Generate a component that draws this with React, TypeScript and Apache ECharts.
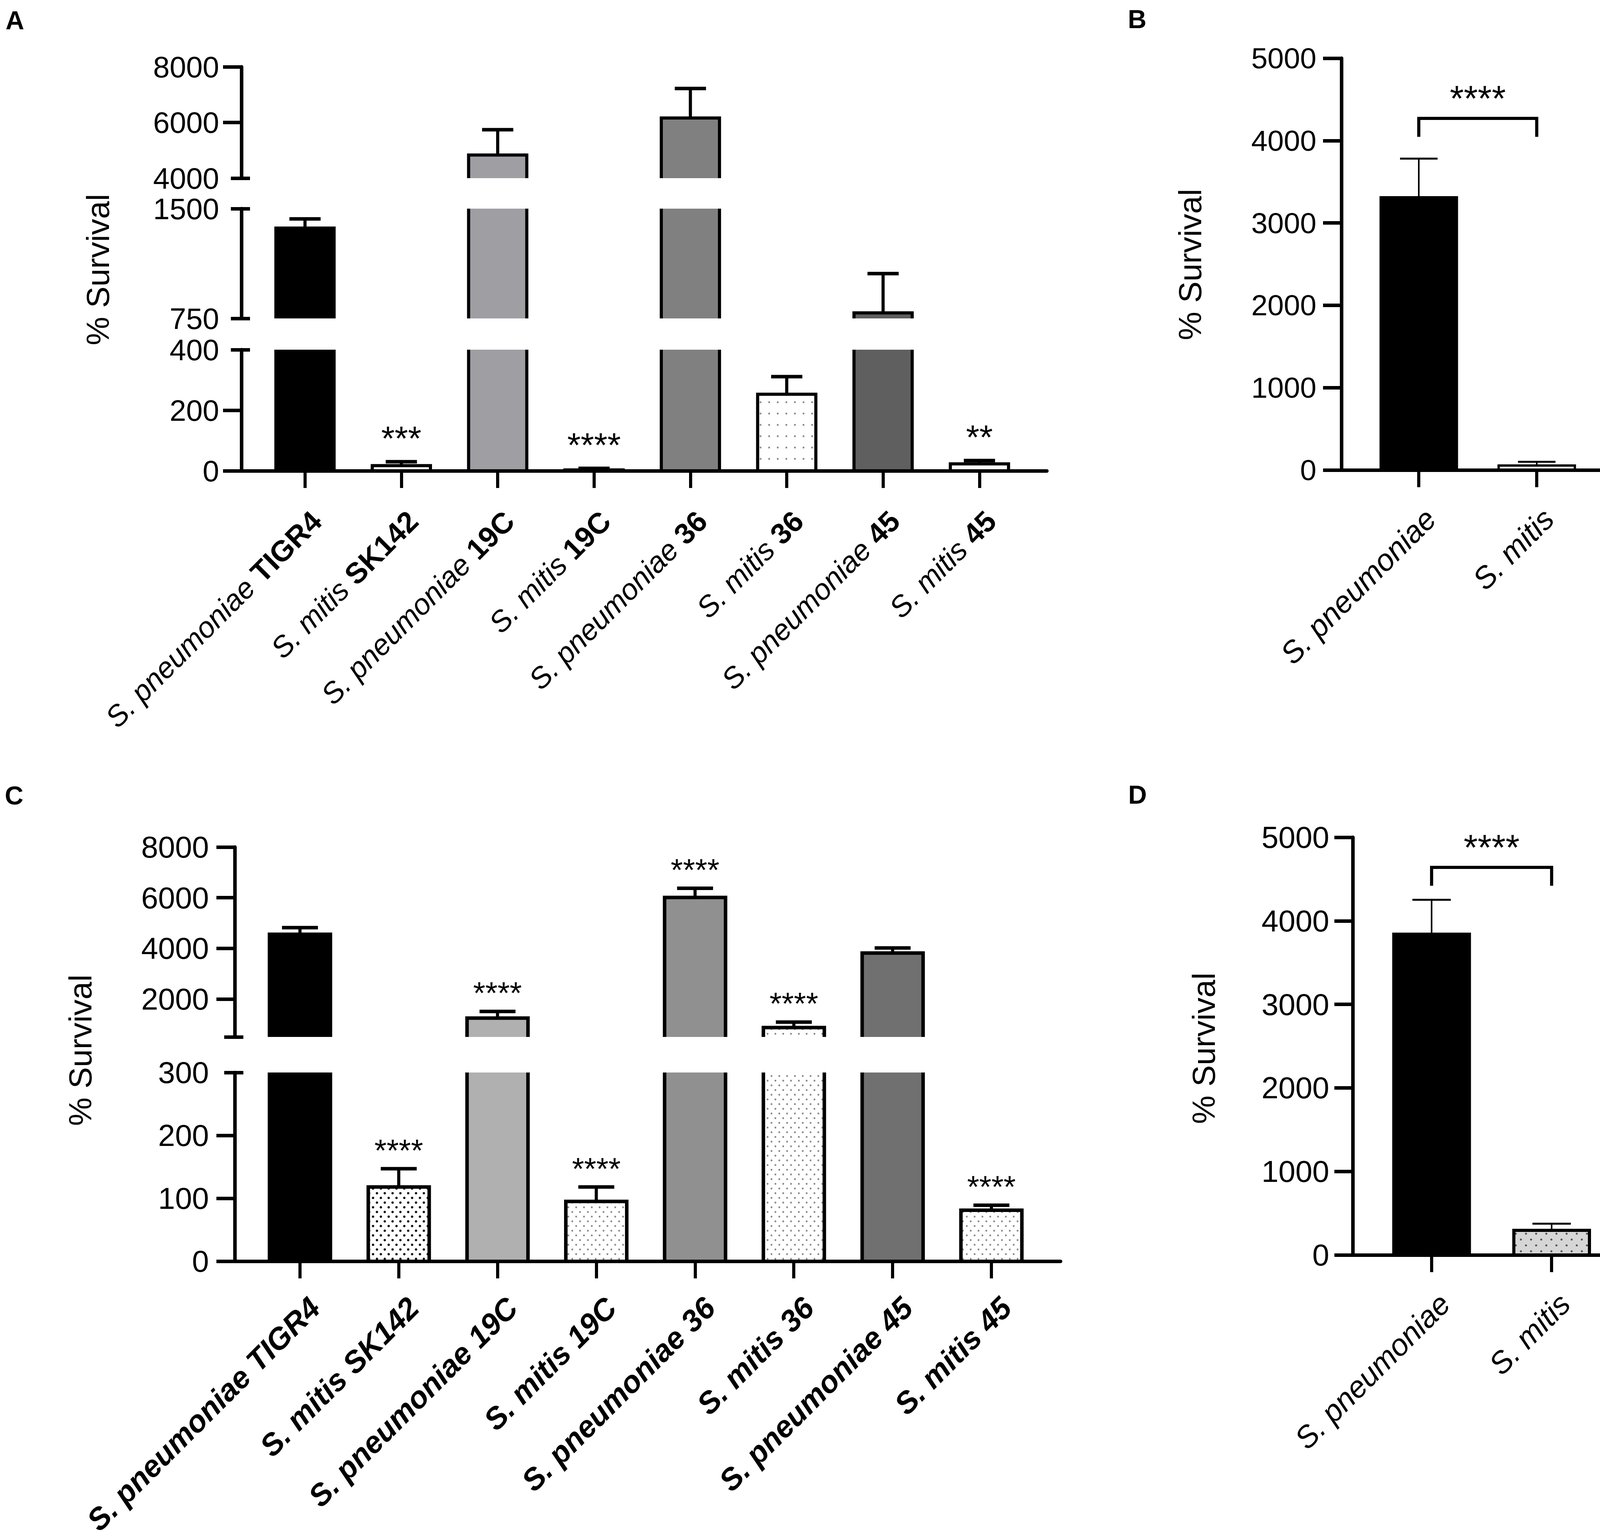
import React, { useEffect, useRef } from "react";
import * as echarts from "echarts";

const FONT = "'Liberation Sans', Arial, Helvetica, sans-serif";

// ---------------- Panel A ----------------
const speciesA = ["S. pneumoniae", "S. mitis", "S. pneumoniae", "S. mitis", "S. pneumoniae", "S. mitis", "S. pneumoniae", "S. mitis"];
const strainsA = ["TIGR4", "SK142", "19C", "19C", "36", "36", "45", "45"];
const valuesA = [1367, 17, 4830, 3, 6160, 253, 788, 23];
const errorsA = [63, 13, 910, 5, 1060, 58, 268, 11];
const starsA = ["", "***", "", "****", "", "", "", "**"];
const fillsA = ["#000000", "dotsA", "#9e9ea3", "dotsA", "#808080", "dotsA", "#5f5f5f", "dotsA"];
const segA_top = [4000, 8000];
const segA_mid = [750, 1500];
const segA_low = [0, 400];

// ---------------- Panel B ----------------
const speciesB = ["S. pneumoniae", "S. mitis"];
const valuesB = [3311, 55];
const errorsB = [470, 45];
const fillsB = ["#000000", "dotsA"];
const bracketB = [0, 1, 4270, 4045];
const bracketStarsB = "****";
const rangeB = [0, 5000];

// ---------------- Panel C ----------------
const speciesC = speciesA;
const strainsC = strainsA;
const valuesC = [4556, 118, 1243, 95, 6010, 870, 3815, 81];
const errorsC = [262, 29, 263, 23, 360, 217, 200, 8];
const starsC = ["", "****", "****", "****", "****", "****", "", "****"];
const fillsC = ["#000000", "dotsDense", "#b0b0b0", "dotsLight", "#909090", "dotsLight", "#707070", "dotsLight"];
const segC_top = [500, 8000];
const segC_low = [0, 300];
const labelsC_top = [2000, 4000, 6000, 8000];

// ---------------- Panel D ----------------
const speciesD = ["S. pneumoniae", "S. mitis"];
const valuesD = [3840, 295];
const errorsD = [412, 79];
const fillsD = ["#000000", "dotsD"];
const bracketD = [0, 1, 4640, 4420];
const bracketStarsD = "****";
const rangeD = [0, 5000];

function makeDots(bg: string, dot: string, r: number, w: number, h: number, staggered: boolean) {
  const c = document.createElement("canvas");
  c.width = w;
  c.height = h;
  const ctx = c.getContext("2d")!;
  ctx.fillStyle = bg;
  ctx.fillRect(0, 0, w, h);
  ctx.fillStyle = dot;
  const pts = staggered ? [[w / 4, h / 4], [(3 * w) / 4, (3 * h) / 4]] : [[w / 2, h / 2]];
  pts.forEach(([x, y]) => {
    ctx.beginPath();
    ctx.arc(x, y, r, 0, Math.PI * 2);
    ctx.fill();
  });
  return { image: c.toDataURL(), repeat: "repeat", imageWidth: w, imageHeight: h };
}

function barRenderer(cfg: any) {
  return function (params: any, api: any) {
    const idx = params.dataIndex;
    const i = api.value(0);
    const v = api.value(1);
    const e = api.value(2);
    const cs = params.coordSys;
    const gTop = cs.y;
    const gBot = cs.y + cs.height;
    const pv = api.coord([i, v]);
    const cx = pv[0];
    const yv = pv[1];
    const y0 = api.coord([i, 0])[1];
    const ye = api.coord([i, v + e])[1];
    const unit = api.size([1, 0])[0];
    const bw = unit * cfg.barFrac;
    const cw = unit * cfg.capFrac;
    const L = cx - bw / 2;
    const R = cx + bw / 2;
    const ch: any[] = [];
    const top = Math.max(yv, gTop);
    const bot = Math.min(y0, gBot);
    const stroke = { stroke: "#000", lineWidth: cfg.lw, fill: null, lineJoin: "miter", lineCap: "butt" };
    if (bot > top) {
      ch.push({ type: "rect", shape: { x: L, y: top, width: bw, height: bot - top }, style: { fill: cfg.fills[idx], stroke: null } });
      if (yv >= gTop) {
        ch.push({ type: "polyline", shape: { points: [[L, bot], [L, yv], [R, yv], [R, bot]] }, style: stroke });
      } else {
        ch.push({ type: "line", shape: { x1: L, y1: top, x2: L, y2: bot }, style: stroke });
        ch.push({ type: "line", shape: { x1: R, y1: top, x2: R, y2: bot }, style: stroke });
      }
    }
    if (e > 0) {
      const s1 = Math.min(yv, gBot);
      const s2 = Math.max(ye, gTop);
      if (s1 > s2) {
        ch.push({ type: "line", shape: { x1: cx, y1: s1, x2: cx, y2: s2 }, style: { stroke: "#000", lineWidth: cfg.errLw, lineCap: "butt" } });
      }
      if (ye >= gTop && ye <= gBot) {
        ch.push({ type: "line", shape: { x1: cx - cw / 2, y1: ye, x2: cx + cw / 2, y2: ye }, style: { stroke: "#000", lineWidth: cfg.capLw, lineCap: "butt" } });
      }
    }
    const star = cfg.stars ? cfg.stars[idx] : "";
    if (star && v + e >= cfg.segMin && v + e <= cfg.segMax) {
      ch.push({
        type: "text",
        x: cx,
        y: ye - cfg.starOffset,
        style: { text: star, fontSize: cfg.starFont, fontFamily: FONT, fill: "#000", align: "center", verticalAlign: "middle", textAlign: "center", textVerticalAlign: "middle" },
      });
    }
    return { type: "group", children: ch };
  };
}

function bracketRenderer(cfg: any) {
  return function (params: any, api: any) {
    const x0 = api.value(0);
    const x1 = api.value(1);
    const y = api.value(2);
    const yd = api.value(3);
    const p0 = api.coord([x0, y]);
    const p1 = api.coord([x1, y]);
    const d = api.coord([x0, yd])[1];
    return {
      type: "group",
      children: [
        { type: "polyline", shape: { points: [[p0[0], d], p0, p1, [p1[0], d]] }, style: { stroke: "#000", lineWidth: cfg.lw, fill: null, lineJoin: "miter" } },
        {
          type: "text",
          x: (p0[0] + p1[0]) / 2,
          y: p0[1] - cfg.starOffset,
          style: { text: cfg.stars, fontSize: cfg.starFont, fontFamily: FONT, fill: "#000", align: "center", verticalAlign: "middle", textAlign: "center", textVerticalAlign: "middle" },
        },
      ],
    };
  };
}

function buildOption(pat: Record<string, any>) {
  const grids: any[] = [];
  const xAxes: any[] = [];
  const yAxes: any[] = [];
  const series: any[] = [];
  const lineStyle = { color: "#000", width: 9 };

  function addPanel(p: any) {
    const idxs = p.values.map((_: number, i: number) => i);
    const fills = p.fills.map((f: string) => (pat[f] ? pat[f] : f));
    p.segs.forEach((s: any, k: number) => {
      const g = grids.length;
      const isBottom = k === p.segs.length - 1;
      grids.push({ left: p.left, width: p.width, top: s.top, height: s.height, containLabel: false, outerBoundsMode: "none" });
      if (isBottom) {
        xAxes.push({
          type: "value",
          gridIndex: g,
          min: p.xMin,
          max: p.xMax,
          position: "bottom",
          z: 10,
          axisLine: { show: true, onZero: false, lineStyle },
          axisTick: { show: true, length: 44, customValues: idxs, lineStyle: { color: "#000", width: 8 } },
          axisLabel: {
            show: true,
            customValues: idxs.map((i: number) => i + p.labelShift),
            rotate: 45,
            margin: p.labelMargin,
            color: "#000",
            fontSize: p.labelFont,
            fontFamily: FONT,
            formatter: (val: number) => p.labelFormatter(Math.round(val - p.labelShift)),
            rich: p.rich,
          },
          splitLine: { show: false },
        });
      } else {
        xAxes.push({ type: "value", gridIndex: g, min: p.xMin, max: p.xMax, show: false });
      }
      const yMain = yAxes.length;
      const main: any = {
        type: "value",
        gridIndex: g,
        position: "left",
        min: s.min,
        max: s.max,
        z: 10,
        axisLine: { show: true, onZero: false, lineStyle },
        axisTick: s.ticks.length
          ? { show: true, length: 47, customValues: s.ticks, lineStyle }
          : { show: false },
        axisLabel: {
          show: true,
          margin: p.yLabelMargin,
          color: "#000",
          fontSize: p.yFont,
          fontFamily: FONT,
          formatter: (val: number) => String(val),
        },
        splitLine: { show: false },
      };
      if (s.interval) main.interval = s.interval;
      if (s.labels) main.axisLabel.customValues = s.labels;
      yAxes.push(main);
      if (s.breaks && s.breaks.length) {
        yAxes.push({
          type: "value", gridIndex: g, position: "left", min: s.min, max: s.max, z: 10,
          axisLine: { show: false, onZero: false },
          axisTick: { show: true, inside: false, length: 27, customValues: s.breaks, lineStyle },
          axisLabel: { show: false }, splitLine: { show: false },
        });
        yAxes.push({
          type: "value", gridIndex: g, position: "left", min: s.min, max: s.max, z: 10,
          axisLine: { show: false, onZero: false },
          axisTick: { show: true, inside: true, length: 22, customValues: s.breaks, lineStyle },
          axisLabel: { show: false }, splitLine: { show: false },
        });
      }
      series.push({
        type: "custom",
        xAxisIndex: g,
        yAxisIndex: yMain,
        silent: true,
        dimensions: ["x", "y", "err"],
        encode: { x: 0, y: 1 },
        data: p.values.map((v: number, i: number) => [i, v, p.errors[i]]),
        renderItem: barRenderer({
          fills,
          stars: p.stars,
          segMin: s.min,
          segMax: s.max,
          barFrac: p.barFrac,
          capFrac: p.capFrac,
          lw: p.lw,
          errLw: p.errLw,
          capLw: p.capLw,
          starOffset: p.starOffset,
          starFont: p.starFont,
        }),
      });
      if (p.bracket && isBottom) {
        series.push({
          type: "custom",
          xAxisIndex: g,
          yAxisIndex: yMain,
          silent: true,
          data: [p.bracket],
          encode: { x: 0, y: 2 },
          renderItem: bracketRenderer({ lw: 8, stars: p.bracketStars, starOffset: 51, starFont: 92 }),
        });
      }
    });
  }

  const richA = {
    sp: { fontStyle: "italic", fontWeight: "normal", fontSize: 75, fontFamily: FONT, color: "#000" },
    st: { fontStyle: "normal", fontWeight: "bold", fontSize: 75, fontFamily: FONT, color: "#000" },
  };
  const richC = {
    bb: { fontStyle: "italic", fontWeight: "bold", fontSize: 78, fontFamily: FONT, color: "#000" },
  };
  const richBD = {
    sp: { fontStyle: "italic", fontWeight: "normal", fontSize: 78, fontFamily: FONT, color: "#000" },
  };

  addPanel({
    values: valuesA, errors: errorsA, stars: starsA, fills: fillsA,
    left: 618, width: 2062, xMin: -0.66, xMax: 7.7,
    segs: [
      { top: 171, height: 285, min: segA_top[0], max: segA_top[1], interval: 2000, ticks: [6000, 8000], breaks: [4000] },
      { top: 534, height: 281, min: segA_mid[0], max: segA_mid[1], interval: 750, ticks: [], breaks: [750, 1500] },
      { top: 895, height: 310, min: segA_low[0], max: segA_low[1], interval: 200, ticks: [0, 200], breaks: [400] },
    ],
    barFrac: 0.604, capFrac: 0.324, lw: 8, errLw: 8, capLw: 9, starOffset: 60, starFont: 88,
    yFont: 76, yLabelMargin: 57,
    labelShift: 0.12, labelMargin: 116, labelFont: 75, rich: richA,
    labelFormatter: (i: number) => `{sp|${speciesA[i]} }{st|${strainsA[i]}}`,
  });

  addPanel({
    values: valuesB, errors: errorsB, stars: null, fills: fillsB,
    left: 3434, width: 703, xMin: -0.656, xMax: 1.672,
    segs: [{ top: 149, height: 1054, min: rangeB[0], max: rangeB[1], interval: 1000, ticks: [0, 1000, 2000, 3000, 4000, 5000], breaks: [] }],
    barFrac: 0.646, capFrac: 0.318, lw: 6, errLw: 4, capLw: 5, starOffset: 60, starFont: 80,
    yFont: 75, yLabelMargin: 64,
    labelShift: 0.1, labelMargin: 112, labelFont: 78, rich: richBD,
    labelFormatter: (i: number) => `{sp|${speciesB[i]}}`,
    bracket: bracketB, bracketStars: bracketStarsB,
  });

  addPanel({
    values: valuesC, errors: errorsC, stars: starsC, fills: fillsC,
    left: 601, width: 2114, xMin: -0.66, xMax: 7.7,
    segs: [
      { top: 2168, height: 486, min: segC_top[0], max: segC_top[1], labels: labelsC_top, ticks: labelsC_top, breaks: [500] },
      { top: 2745, height: 483, min: segC_low[0], max: segC_low[1], interval: 100, ticks: [0, 100, 200], breaks: [300] },
    ],
    barFrac: 0.617, capFrac: 0.364, lw: 9, errLw: 8, capLw: 9, starOffset: 47, starFont: 80,
    yFont: 78, yLabelMargin: 66,
    labelShift: 0.15, labelMargin: 106, labelFont: 78, rich: richC,
    labelFormatter: (i: number) => `{bb|${speciesC[i]} ${strainsC[i]}}`,
  });

  addPanel({
    values: valuesD, errors: errorsD, stars: null, fills: fillsD,
    left: 3463, width: 712, xMin: -0.657, xMax: 1.66,
    segs: [{ top: 2143, height: 1069, min: rangeD[0], max: rangeD[1], interval: 1000, ticks: [0, 1000, 2000, 3000, 4000, 5000], breaks: [] }],
    barFrac: 0.63, capFrac: 0.32, lw: 8, errLw: 4, capLw: 5, starOffset: 60, starFont: 80,
    yFont: 78, yLabelMargin: 60,
    labelShift: 0.11, labelMargin: 112, labelFont: 78, rich: richBD,
    labelFormatter: (i: number) => `{sp|${speciesD[i]}}`,
    bracket: bracketD, bracketStars: bracketStarsD,
  });

  const letter = (t: string, x: number, y: number) => ({
    type: "text", x, y,
    style: { text: t, fontSize: 66, fontWeight: "bold", fontFamily: FONT, fill: "#000", align: "center", verticalAlign: "middle", textAlign: "center", textVerticalAlign: "middle" },
  });
  const ytitle = (x: number, y: number) => ({
    type: "text", x, y, rotation: Math.PI / 2,
    style: { text: "% Survival", fontSize: 82, fontFamily: FONT, fill: "#000", align: "center", verticalAlign: "middle", textAlign: "center", textVerticalAlign: "middle" },
  });

  return {
    animation: false,
    backgroundColor: "#ffffff",
    grid: grids,
    xAxis: xAxes,
    yAxis: yAxes,
    series,
    graphic: [
      letter("A", 38, 52),
      letter("B", 2911, 49),
      letter("C", 36, 2036),
      letter("D", 2912, 2034),
      ytitle(250, 690),
      ytitle(3046, 677),
      ytitle(205, 2688),
      ytitle(3081, 2683),
    ],
  };
}

export default function App() {
  const ref = useRef<HTMLDivElement>(null);
  useEffect(() => {
    if (!ref.current) return;
    const chart = echarts.init(ref.current, null, { renderer: "svg" });
    const pat = {
      dotsA: makeDots("#ffffff", "#888888", 2.4, 22, 29, false),
      dotsDense: makeDots("#ffffff", "#111111", 3, 20, 24, true),
      dotsLight: makeDots("#ffffff", "#8a8a8a", 2.4, 20, 24, true),
      dotsD: makeDots("#d6d6d6", "#555555", 2.6, 26, 30, true),
    };
    chart.setOption(buildOption(pat) as any);
    return () => chart.dispose();
  }, []);
  return <div ref={ref} style={{ position: "absolute", left: 0, top: 0, width: 4200, height: 3939, background: "#fff" }} />;
}
